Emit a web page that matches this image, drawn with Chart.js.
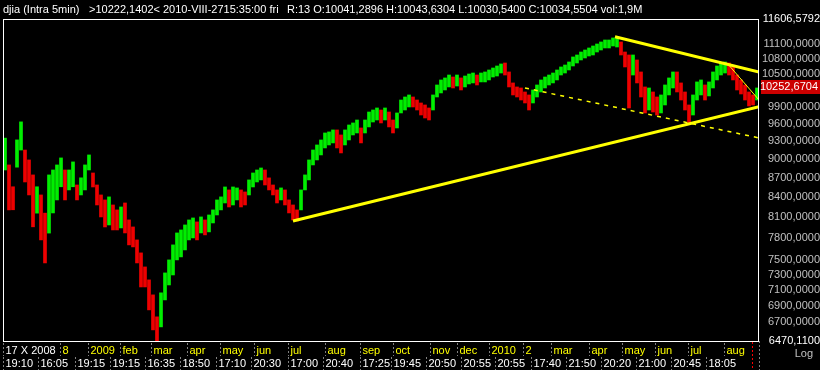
<!DOCTYPE html>
<html>
<head>
<meta charset="utf-8">
<style>
  html, body { margin: 0; padding: 0; background: #000; }
  #wrap { position: relative; width: 820px; height: 370px; }
</style>
<script src="https://cdn.jsdelivr.net/npm/chart.js@4.4.1/dist/chart.umd.min.js"></script>
</head>
<body>
<div id="wrap"><canvas id="chartDjia" width="820" height="370"></canvas></div>
<script>
/* ═══════════════════════════════════════════
   DATA
═══════════════════════════════════════════ */

// bar highs / lows, one bar every ~4 px (Oct 2008 -> Aug 2010)
const highs = [
    9350, 8906, 8560, 9320, 9630, 9150, 8987, 8746, 8560, 8434,
    8160, 8746, 8825, 8906, 9020, 8825, 8825, 8955, 8588, 8700,
    8906, 9069, 8777, 8588, 8434, 8358, 8404, 8282, 8208, 8252,
    8312, 8060, 7958, 7773, 7592, 7401, 7229, 7035, 6760, 7061,
    7321, 7496, 7703, 7872, 7915, 7987, 8060, 8089, 8031, 8104,
    8060, 8133, 8208, 8358, 8404, 8557, 8511, 8557, 8542, 8511,
    8480, 8667, 8777, 8825, 8857, 8825, 8699, 8588, 8511, 8542,
    8511, 8358, 8282, 8208, 8511, 8746, 8987, 9151, 9235, 9319,
    9438, 9456, 9490, 9490, 9404, 9490, 9576, 9611, 9663, 9524,
    9663, 9804, 9840, 9876, 9840, 9876, 9804, 9663, 9787, 10020,
    10075, 10112, 10075, 10020, 9966, 9930, 9876, 10112, 10297, 10391,
    10429, 10485, 10447, 10485, 10429, 10466, 10504, 10523, 10485, 10523,
    10543, 10581, 10619, 10658, 10697, 10716, 10543, 10335, 10260, 10241,
    10167, 10112, 10204, 10297, 10391, 10447, 10485, 10523, 10581, 10639,
    10677, 10736, 10834, 10873, 10932, 10972, 11012, 11052, 11092, 11133,
    11173, 11173, 11214, 11234, 11133, 10932, 10873, 10873, 10775, 10543,
    10260, 10241, 10167, 10075, 10112, 10297, 10429, 10543, 10543, 10335,
    10167, 9930, 10112, 10354, 10391, 10297, 10354, 10543, 10658, 10716,
    10736, 10716, 10639, 10485, 10391, 10297, 10167, 10112, 10241
];
const lows = [
    8825, 8208, 8210, 8870, 9150, 8635, 8434, 7960, 8160, 7773,
    7455, 7870, 8163, 8358, 8560, 8358, 8511, 8560, 8358, 8434,
    8511, 8825, 8557, 8282, 8104, 7958, 7987, 7915, 7915, 7944,
    7872, 7703, 7675, 7455, 7137, 7137, 6846, 6602, 6470, 6638,
    6971, 7163, 7294, 7496, 7537, 7633, 7773, 7801, 7773, 7872,
    7844, 7887, 8016, 8133, 8208, 8312, 8252, 8282, 8358, 8252,
    8282, 8434, 8557, 8635, 8667, 8588, 8511, 8434, 8312, 8358,
    8282, 8163, 8060, 8045, 8208, 8511, 8667, 8906, 8987, 9069,
    9185, 9235, 9269, 9185, 9102, 9235, 9319, 9404, 9438, 9269,
    9438, 9542, 9628, 9663, 9611, 9663, 9542, 9438, 9524, 9787,
    9840, 9894, 9894, 9840, 9751, 9698, 9663, 9840, 10075, 10149,
    10204, 10260, 10241, 10278, 10204, 10260, 10316, 10335, 10297, 10354,
    10354, 10391, 10447, 10466, 10523, 10485, 10260, 10112, 10075, 10020,
    9966, 9840, 9966, 10075, 10167, 10241, 10297, 10335, 10391, 10485,
    10523, 10581, 10658, 10716, 10775, 10814, 10853, 10873, 10932, 10972,
    11012, 11012, 11052, 11032, 10873, 10639, 9876, 10485, 10335, 10075,
    9787, 9840, 9804, 9751, 9787, 9930, 10112, 10241, 10167, 10020,
    9840, 9611, 9751, 10020, 10112, 10020, 10094, 10241, 10391, 10485,
    10523, 10485, 10391, 10204, 10130, 10020, 9912, 9930, 10020
];

// price axis (log)
const yMin = 6470.11;
const yMax = 11606.5792;
const yTickValues = [6470.11, 6700, 6900, 7100, 7300, 7500, 7800, 8100, 8400, 8700,
                     9000, 9300, 9600, 9900, 10500, 10800, 11100, 11606.5792];
const lastPrice = 10252.6704;

// time axis, two label rows (positions in bar index)
const monthLabels = ['17 X 2008', '8', '2009', 'feb', 'mar', 'apr', 'may', 'jun', 'jul', 'aug', 'sep',
                     'oct', 'nov', 'dec', '2010', '2', 'mar', 'apr', 'may', 'jun', 'jul', 'aug'];
const monthTicks = [-0.5, 13.75, 20.75, 28.75, 36.5, 45.5, 53.75, 62.25, 70.75, 80, 88.75,
                    97, 106.25, 113, 121, 129.5, 136.5, 146, 154.25, 162.5, 170.75, 179.75];
const timeLabels = ['19:10', '16:05', '19:15', '19:15', '16:35', '18:50', '17:10', '20:30', '17:00', '20:40', '17:25',
                    '19:45', '20:50', '20:55', '20:55', '17:40', '21:50', '20:20', '21:00', '20:45', '18:05'];
const timeTicks = [-0.5, 8.25, 17.5, 26.25, 35, 43.75, 52.75, 61.5, 70.75, 79.5, 88.75,
                   96.5, 105.25, 114, 122.5, 131.5, 140.25, 149, 157.75, 166.5, 175.25];
const cursorIndex = 186.75;

// trend lines drawn on the chart (bar index, price)
const supportLine = [{ x: 72, y: 8045 }, { x: 188.5, y: 9900 }];
const resistLine = [{ x: 152.5, y: 11240 }, { x: 188.5, y: 10543 }];
const channelLine = [{ x: 130, y: 10241 }, { x: 188.5, y: 9353 }];
const shortLine = [{ x: 180.5, y: 10716 }, { x: 188.5, y: 10020 }];

const headerParts = [
    ['djia (Intra 5min)', 3],
    ['>10222,1402<', 89],
    ['2010-VIII-2715:35:00 fri', 163],
    ['R:13 O:10041,2896 H:10043,6304 L:10030,5400 C:10034,5504 vol:1,9M', 287]
];

/* ═══════════════════════════════════════════
   CHART
═══════════════════════════════════════════ */

const UP = '#00ee00';
const DOWN = '#ee0000';
const YELLOW = '#ffff00';
const FONT = '11px "Liberation Sans", Arial, sans-serif';

const fmt = v => v.toFixed(4).replace('.', ',');

const candleData = highs.map((h, i) => ({ x: i, y: [lows[i], h] }));
const candleColors = highs.map((h, i) => {
    if (i === 0) return UP;
    return (h + lows[i]) >= (highs[i - 1] + lows[i - 1]) ? UP : DOWN;
});

const lineSet = (data, width, dash) => ({
    type: 'line',
    data: data,
    borderColor: YELLOW,
    borderWidth: width,
    borderDash: dash || [],
    pointRadius: 0,
    order: 0
});

const decorPlugin = {
    id: 'decor',
    beforeDraw(chart) {
        const ctx = chart.ctx;
        ctx.save();
        ctx.fillStyle = '#000';
        ctx.fillRect(0, 0, chart.width, chart.height);
        ctx.restore();
    },
    afterDraw(chart) {
        const ctx = chart.ctx;
        const a = chart.chartArea;
        const xs = chart.scales.x;
        const ys = chart.scales.y;
        ctx.save();

        // header
        ctx.font = FONT;
        ctx.fillStyle = '#fff';
        ctx.textBaseline = 'alphabetic';
        headerParts.forEach(p => ctx.fillText(p[0], p[1], 13));

        // frame
        ctx.strokeStyle = '#fff';
        ctx.lineWidth = 1;
        ctx.strokeRect(a.left + 0.5, a.top + 0.5, a.right - a.left - 1, a.bottom - a.top);

        // time axis separators and labels
        ctx.setLineDash([2, 2]);
        ctx.strokeStyle = '#808080';
        monthTicks.forEach((t, i) => {
            const px = Math.round(xs.getPixelForValue(t)) + 0.5;
            ctx.beginPath(); ctx.moveTo(px, a.bottom + 2); ctx.lineTo(px, a.bottom + 15); ctx.stroke();
            ctx.fillStyle = i === 0 ? '#fff' : YELLOW;
            ctx.fillText(monthLabels[i], px + 2, a.bottom + 13);
        });
        timeTicks.forEach((t, i) => {
            const px = Math.round(xs.getPixelForValue(t)) + 0.5;
            ctx.beginPath(); ctx.moveTo(px, a.bottom + 16); ctx.lineTo(px, chart.height); ctx.stroke();
            ctx.fillStyle = '#fff';
            ctx.fillText(timeLabels[i], px + 2, a.bottom + 26);
        });
        ctx.beginPath(); ctx.moveTo(a.right + 0.5, a.bottom); ctx.lineTo(a.right + 0.5, chart.height); ctx.stroke();
        ctx.strokeStyle = '#ff0000';
        const cx = Math.round(xs.getPixelForValue(cursorIndex)) + 0.5;
        ctx.beginPath(); ctx.moveTo(cx, a.bottom + 1); ctx.lineTo(cx, chart.height); ctx.stroke();
        ctx.setLineDash([]);

        // last price box
        const py = ys.getPixelForValue(lastPrice);
        ctx.fillStyle = '#cc0000';
        ctx.fillRect(a.right + 2, Math.round(py) - 7, chart.width - a.right - 2, 14);
        ctx.fillStyle = '#fff';
        ctx.textAlign = 'right';
        ctx.textBaseline = 'middle';
        ctx.fillText(fmt(lastPrice), chart.width - 2, py);

        // scale mode
        ctx.fillStyle = '#c0c0c0';
        ctx.textBaseline = 'alphabetic';
        ctx.fillText('Log', 813, a.bottom + 16);
        ctx.restore();
    }
};

const chart = new Chart(document.getElementById('chartDjia'), {
    type: 'bar',
    data: {
        datasets: [
            lineSet(supportLine, 3),
            lineSet(resistLine, 3),
            lineSet(channelLine, 1.5, [4, 5]),
            lineSet(shortLine, 1),
            {
                type: 'bar',
                data: candleData,
                backgroundColor: candleColors,
                barThickness: 3,
                borderSkipped: false,
                order: 1
            }
        ]
    },
    options: {
        responsive: false,
        animation: false,
        devicePixelRatio: 1,
        layout: { padding: { left: 3, top: 19, right: 0, bottom: 29 } },
        plugins: { legend: { display: false }, tooltip: { enabled: false } },
        scales: {
            x: {
                type: 'linear',
                min: -0.5,
                max: 188.5,
                offset: false,
                display: false
            },
            y: {
                type: 'logarithmic',
                position: 'right',
                min: yMin,
                max: yMax,
                grid: { display: false },
                border: { display: false },
                afterBuildTicks: scale => { scale.ticks = yTickValues.map(v => ({ value: v })); },
                afterFit: scale => { scale.width = 61; },
                ticks: {
                    autoSkip: false,
                    crossAlign: 'far',
                    padding: 2,
                    font: { family: '"Liberation Sans", Arial, sans-serif', size: 11 },
                    color: ctx => (ctx.index === 0 || ctx.index === yTickValues.length - 1) ? '#fff' : '#c0c0c0',
                    callback: v => fmt(v)
                }
            }
        }
    },
    plugins: [decorPlugin]
});
</script>
</body>
</html>
